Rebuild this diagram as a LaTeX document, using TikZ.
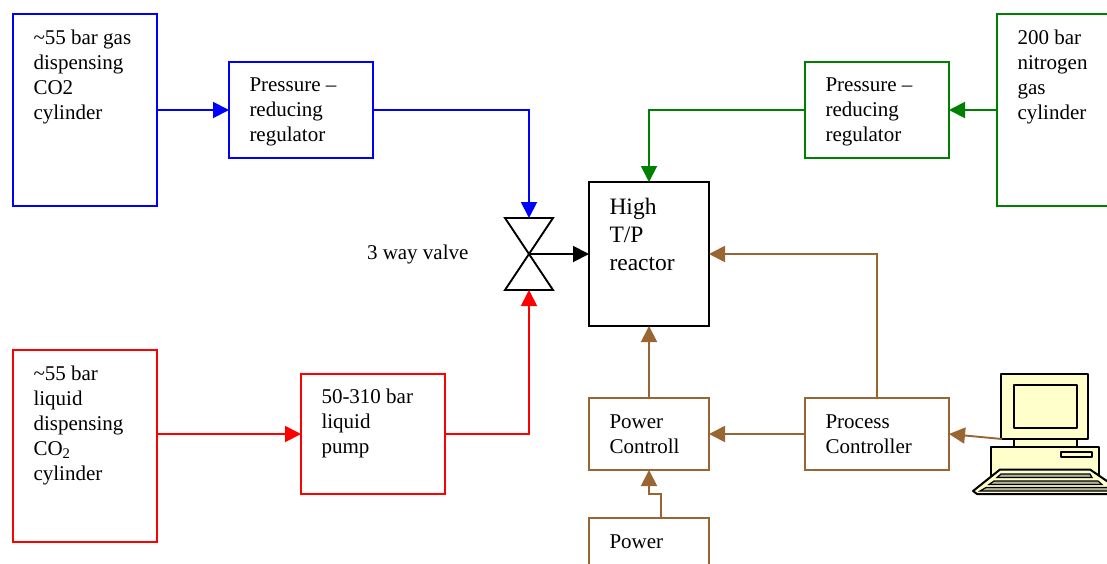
\documentclass[tikz,border=0pt]{standalone}
\usepackage{fontspec}
\setmainfont{Liberation Serif}
\usetikzlibrary{arrows.meta}
\definecolor{brn}{HTML}{996633}
\definecolor{grn}{HTML}{008000}
\definecolor{cream}{HTML}{FFFFCC}
\definecolor{keygrey}{HTML}{B2B299}
\tikzset{
  x=1pt,y=-1pt,
  boxn/.style={draw=#1,line width=1.9pt,fill=none,inner sep=0pt,outer sep=0pt,rectangle},
  txt/.style={anchor=north west,align=left,inner sep=0pt,outer sep=0pt,font=\fontsize{21}{25}\selectfont,text=black},
  conn/.style={draw=#1,line width=1.9pt,-{Triangle[length=16pt,width=16pt,fill=#1]}},
  pcline/.style={draw=black,line width=2pt,line join=round,fill=cream},
}
\newcommand{\boxat}[6]{\node[boxn=#1,minimum width=#4pt,minimum height=#5pt,anchor=north west] (#2) at #3 {};\node[txt] at ([shift={(20.5,#6)}]#2.north west) }
\begin{document}
\begin{tikzpicture}
\useasboundingbox (0,0) rectangle (1107,563);
\clip (0,0) rectangle (1107,563);
\fill[white] (0,0) rectangle (1107,563);
% boxes
\boxat{blue}{co}{(13,14)}{144}{192}{12.5}{\strut \textasciitilde 55 bar gas\\\strut dispensing\\\strut CO2\\\strut cylinder};
\boxat{blue}{regb}{(229,62)}{144}{96}{12}{\strut Pressure –\\\strut reducing\\\strut regulator};
\boxat{grn}{regg}{(805,62)}{144}{96}{12}{\strut Pressure –\\\strut reducing\\\strut regulator};
\boxat{grn}{nit}{(997,14)}{144}{192}{12.5}{\strut 200 bar\\\strut nitrogen\\\strut gas\\\strut cylinder};
\boxat{red}{liq}{(13,350)}{144}{192}{12.5}{\strut \textasciitilde 55 bar\\\strut liquid\\\strut dispensing\\\strut CO\textsubscript{2}\\\strut cylinder};
\boxat{red}{pump}{(301,374)}{144}{120}{12}{\strut 50-310 bar\\\strut liquid\\\strut pump};
\boxat{brn}{pc}{(589,398)}{120}{72}{12.5}{\strut Power\\\strut Controll};
\boxat{brn}{proc}{(805,398)}{144}{72}{12.5}{\strut Process\\\strut Controller};
\boxat{brn}{pow}{(589,518)}{120}{120}{12.5}{\strut Power};
\node[boxn=black,minimum width=120pt,minimum height=144pt,anchor=north west] (reac) at (589,182) {};
\node[txt,font=\fontsize{23.5}{28}\selectfont] at ([shift={(20.5,13)}]reac.north west) {\strut High\\\strut T/P\\\strut reactor};
\node[txt,anchor=west] at (367,254.5) {3 way valve};
% valve
\coordinate (vc) at (529,254);
\coordinate (vt) at (529,218);
\coordinate (vb) at (529,290);
\draw[black,line width=1.9pt,line join=miter] (505,218) -- (553,218) -- (505,290) -- (553,290) -- cycle;
% connectors
\draw[conn=blue] (co.east |- 0,110) -- (regb.west |- 0,110);
\draw[conn=blue] (regb.east |- 0,110) -- (vt |- 0,110) -- (vt);
\draw[conn=grn] (nit.west |- 0,110) -- (regg.east |- 0,110);
\draw[conn=grn] (regg.west |- 0,110) -- (reac.north |- 0,110) -- (reac.north);
\draw[conn=red] (liq.east |- 0,434) -- (pump.west |- 0,434);
\draw[conn=red] (pump.east |- 0,434) -- (vb |- 0,434) -- (vb);
\draw[conn=black] (vc) -- (reac.west |- vc);
\draw[conn=brn] (pc.north) -- (reac.south);
\draw[conn=brn] (proc.west |- 0,434) -- (pc.east |- 0,434);
\draw[conn=brn] (proc.north) -- (proc.north |- vc) -- (reac.east |- vc);
\coordinate (powtop) at (661,518);
\draw[conn=brn] (powtop) -- (661,494) -- (649,494) -- (pc.south);
% computer
\draw[pcline] (1001,374) rectangle (1088,439);
\draw[pcline] (1014,385) rectangle (1077,428);
\draw[pcline] (1014,439) rectangle (1077,447);
\draw[pcline] (991,447) rectangle (1099,476);
\draw[pcline] (1061,452) rectangle (1092,457);
\draw[pcline] (1000,469.5) -- (1090,469.5) -- (1120,490) -- (1118,494) -- (977,494) -- (973,491) -- cycle;
\draw[black,line width=1.2pt,fill=keygrey] (1001,474) -- (1090,474) -- (1092,477.5) -- (997,477.5) -- cycle;
\draw[black,line width=1.2pt,fill=keygrey] (994,481) -- (1098,481) -- (1102,484.5) -- (989,484.5) -- cycle;
\draw[black,line width=1.2pt,fill=keygrey] (986,487.5) -- (1108,487.5) -- (1112,491) -- (980,491) -- cycle;
\coordinate (pcarm) at (1002,439);
\draw[conn=brn] (pcarm) -- (proc.east |- 0,434);
\end{tikzpicture}
\end{document}
